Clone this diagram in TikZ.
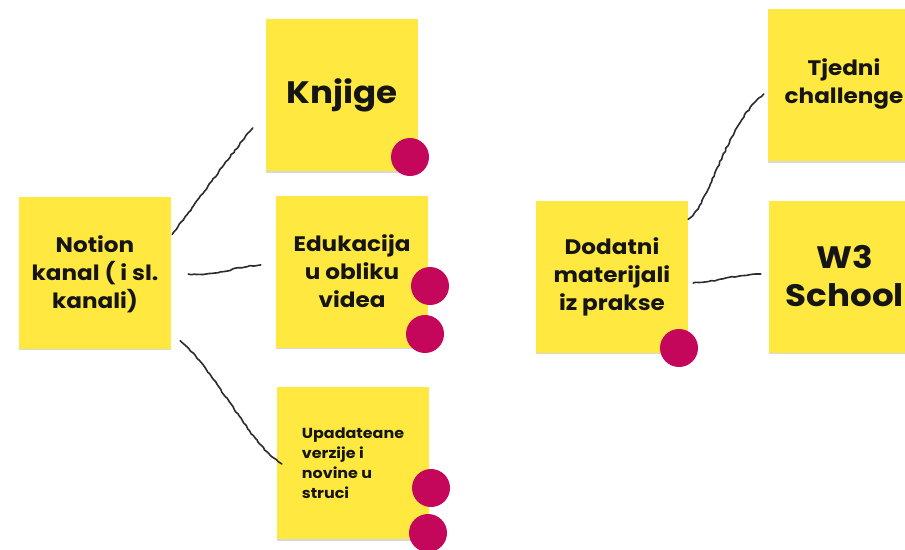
\documentclass[tikz,border=0pt]{standalone}
\usepackage{fontspec}
\setmainfont{Poppins}[FakeStretch=1.1]
\usetikzlibrary{shadows,decorations.pathmorphing,calc}
\definecolor{sticky}{HTML}{FFE840}
\definecolor{dotc}{HTML}{C4075A}
\definecolor{ink}{HTML}{151515}
\definecolor{linec}{HTML}{2B2B2B}
\tikzset{
  note/.style={fill=sticky, minimum width=152pt, minimum height=152pt, inner sep=0pt,
    drop shadow={shadow xshift=0pt, shadow yshift=-1.6pt, opacity=0.3, fill=gray},
    align=center, text=ink, font=\bfseries},
  txt/.style={font=\fontsize{21}{28}\selectfont\bfseries},
  big/.style={font=\fontsize{31}{38}\selectfont\bfseries},
  small/.style={font=\fontsize{14.5}{20}\selectfont\bfseries},
  dotn/.style={circle, fill=dotc, minimum size=38pt, inner sep=0pt},
  conn/.style={draw=linec, line width=1.6pt, line cap=round, line join=round,
    decorate, decoration={random steps, segment length=3pt, amplitude=0.6pt}}
}
\begin{document}
\begin{tikzpicture}[x=1pt,y=-1pt]
\pgfmathsetseed{7}
\useasboundingbox (0,0) rectangle (905,549);
\clip (0,0) rectangle (905,549);
\fill[white] (0,0) rectangle (905,549);
% notes
\node[note] (notion) at (95,272.5) {};
\node[txt,align=center,text=ink] (notiont) at ([yshift=-1.5pt]notion.center) {Notion\\kanal ( i sl.\\kanali)};
\node[note] (knjige) at (342,95) {};
\node[big,text=ink] (knjiget) at (knjige.center) {Knjige};
\node[note] (eduk) at (352,271.5) {};
\node[txt,align=center,text=ink] (edukt) at (eduk.center) {Edukacija\\u obliku\\videa};
\node[note] (upd) at (353,463) {};
\node[small,align=left,text=ink] (updt) at (upd.center) {Upadateane\\verzije i\\novine u\\struci};
\node[note] (dod) at (612,276.5) {};
\node[txt,align=center,text=ink] (dodt) at (dod.center) {Dodatni\\materijali\\iz prakse};
\node[note] (tj) at (844,85) {};
\node[txt,align=center,text=ink] (tjt) at ([yshift=1pt]tj.center) {Tjedni\\challenge};
\node[note] (w3) at (845,276.5) {};
\node[big,align=center,text=ink] (w3t) at (w3.center) {W3\\School};
% dots
\node[dotn] (d1) at (410,157) {};
\node[dotn] (d2) at (430,286) {};
\node[dotn] (d3) at (425,334) {};
\node[dotn] (d4) at (431,488) {};
\node[dotn] (d5) at (428,533) {};
\node[dotn] (d6) at (679,348) {};
% connectors
\draw[conn] ([shift={(1,38)}]notion.north east) .. controls (195,205) and (230,155) .. ([shift={(-13,33)}]knjige.west);
\draw[conn] ([shift={(17,1.5)}]notion.east) .. controls (220,276) and (235,266) .. ([shift={(-15,-6.5)}]eduk.west);
\draw[conn] ([shift={(9,-8)}]notion.south east) .. controls (215,370) and (250,445) .. ([shift={(5,1)}]upd.west);
\draw[conn] ([shift={(0,19)}]dod.north east) .. controls (710,205) and (725,125) .. ([shift={(-4,9)}]tj.west);
\draw[conn] ([shift={(5,6.5)}]dod.east) .. controls (720,281) and (740,274) .. ([shift={(-8,-2.5)}]w3.west);
\end{tikzpicture}
\end{document}
